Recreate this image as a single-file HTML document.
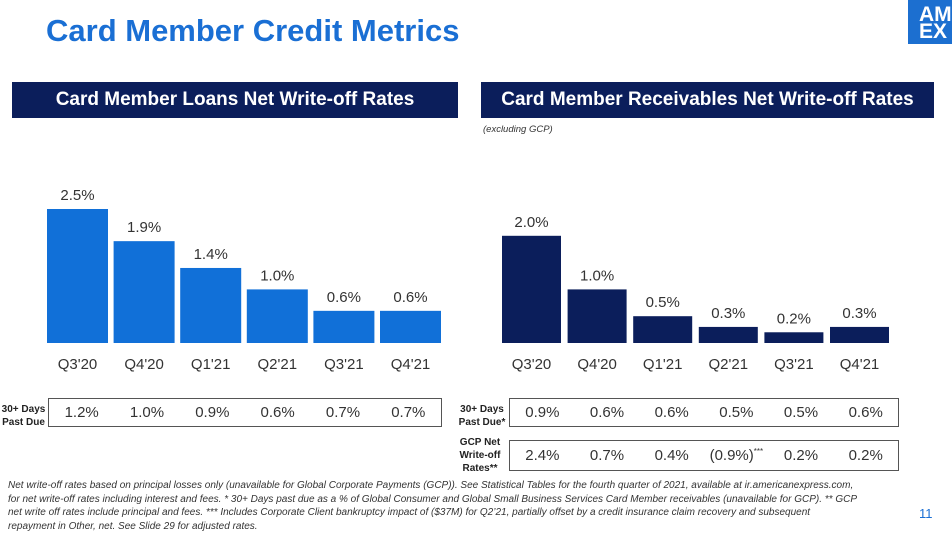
<!DOCTYPE html>
<html><head><meta charset="utf-8"><style>
body{margin:0;width:952px;height:536px;background:#fff;font-family:"Liberation Sans",sans-serif;position:relative;overflow:hidden}
.abs{position:absolute}
.hdr{background:#0b1e5b;color:#fff;font-weight:bold;font-size:19px;text-align:center;line-height:36px;height:36px}
.box{border:1px solid #555;box-sizing:border-box;display:flex;align-items:center}
.box span{flex:1;text-align:center;font-size:15px;color:#333}
.lbl{font-size:10px;font-weight:bold;color:#222;line-height:13px;text-align:center}
.foot{font-size:10px;font-style:italic;color:#333;line-height:13.5px}
</style></head><body>
<div class="abs" style="left:46px;top:13px;font-size:31px;font-weight:bold;color:#1a6fd4">Card Member Credit Metrics</div>
<div class="abs" style="left:908px;top:0;width:44px;height:44px;background:#1c6fd0;color:#fff;font-weight:bold;font-size:21px;line-height:17px;padding:6px 0 0 11px;box-sizing:border-box;overflow:hidden;white-space:nowrap">AM<br>EX</div>
<div class="abs hdr" style="left:12px;top:82px;width:446px">Card Member Loans Net Write-off Rates</div>
<div class="abs hdr" style="left:481px;top:82px;width:453px">Card Member Receivables Net Write-off Rates</div>
<div class="abs" style="left:483px;top:124px;font-size:9.5px;font-style:italic;color:#333">(excluding GCP)</div>
<svg class="abs" style="left:0;top:0" width="952" height="380" id="chart"></svg>
<div class="abs lbl" style="left:0;top:403px;width:47px">30+ Days<br>Past Due</div>
<div class="abs box" style="left:48px;top:398px;width:394px;height:29px"><span>1.2%</span><span>1.0%</span><span>0.9%</span><span>0.6%</span><span>0.7%</span><span>0.7%</span></div>
<div class="abs lbl" style="left:454px;top:403px;width:56px">30+ Days<br>Past Due*</div>
<div class="abs box" style="left:509px;top:398px;width:390px;height:29px"><span>0.9%</span><span>0.6%</span><span>0.6%</span><span>0.5%</span><span>0.5%</span><span>0.6%</span></div>
<div class="abs lbl" style="left:452px;top:436px;width:56px">GCP Net<br>Write-off<br>Rates**</div>
<div class="abs box" style="left:509px;top:440px;width:390px;height:31px"><span>2.4%</span><span>0.7%</span><span>0.4%</span><span>(0.9%)<sup style="font-size:8px">***</sup></span><span>0.2%</span><span>0.2%</span></div>
<div class="abs foot" style="left:8px;top:479px;width:880px">Net write-off rates based on principal losses only (unavailable for Global Corporate Payments (GCP)). See Statistical Tables for the fourth quarter of 2021, available at ir.americanexpress.com,<br>for net write-off rates including interest and fees. * 30+ Days past due as a % of Global Consumer and Global Small Business Services Card Member receivables (unavailable for GCP). ** GCP<br>net write off rates include principal and fees. *** Includes Corporate Client bankruptcy impact of ($37M) for Q2’21, partially offset by a credit insurance claim recovery and subsequent<br>repayment in Other, net. See Slide 29 for adjusted rates.</div>
<div class="abs" style="left:919px;top:506px;font-size:13px;color:#1a6fd4">11</div>
<script>
const categories=["Q3'20","Q4'20","Q1'21","Q2'21","Q3'21","Q4'21"];
const loanRates=[2.5,1.9,1.4,1.0,0.6,0.6];
const receivableRates=[2.0,1.0,0.5,0.3,0.2,0.3];
const svg=document.getElementById('chart');
const NS='http://www.w3.org/2000/svg';
const base=343,pxPer=53.6;
function y(v){return base-v*pxPer;}
function draw(vals,x0,step,w,color,prefix){
 vals.forEach((v,i)=>{
  const x=x0+i*step;
  const r=document.createElementNS(NS,'rect');
  r.setAttribute('x',x);r.setAttribute('y',y(v));r.setAttribute('width',w);r.setAttribute('height',base-y(v));r.setAttribute('fill',color);
  
  
  svg.appendChild(r);
  const t=document.createElementNS(NS,'text');
  t.setAttribute('x',x+w/2);t.setAttribute('y',y(v)-9);t.setAttribute('text-anchor','middle');t.setAttribute('font-size','15');t.setAttribute('fill','#333');
  t.textContent=v.toFixed(1)+'%';
  
  
  svg.appendChild(t);
  const c=document.createElementNS(NS,'text');
  c.setAttribute('x',x+w/2);c.setAttribute('y',369);c.setAttribute('text-anchor','middle');c.setAttribute('font-size','15');c.setAttribute('fill','#333');
  c.textContent=categories[i];
  
  
  svg.appendChild(c);
 });
}
draw(loanRates,47,66.6,61,'#1170d8','loans');
draw(receivableRates,502,65.6,59,'#0b1e5b','receivables');
</script>
</body></html>
